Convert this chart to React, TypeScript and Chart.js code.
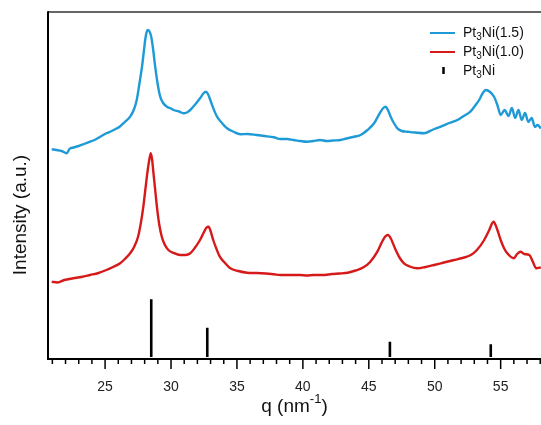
import React, { useEffect, useRef } from "react";
import { Chart, registerables } from "chart.js";

Chart.register(...registerables);

// Pt3Ni(1.5) – blue trace
const blueQ = [20.95, 21.3, 21.7, 22.09, 22.3, 22.6, 23.0, 23.4, 23.86, 24.2, 24.6, 25.1, 25.5, 25.8, 26.1, 26.5, 26.9, 27.2, 27.4, 27.6, 27.8, 27.95, 28.04, 28.15, 28.24, 28.35, 28.5, 28.65, 28.8, 29.0, 29.18, 29.4, 29.69, 30.0, 30.2, 30.6, 30.95, 31.2, 31.46, 31.8, 32.2, 32.45, 32.65, 32.8, 32.98, 33.2, 33.49, 33.8, 34.25, 34.7, 35.26, 35.8, 36.5, 37.1, 37.8, 38.3, 38.8, 39.3, 39.8, 40.33, 40.8, 41.3, 41.8, 42.3, 42.86, 43.3, 43.8, 44.38, 44.9, 45.4, 45.9, 46.1, 46.28, 46.45, 46.66, 46.9, 47.17, 47.5, 47.93, 48.5, 49.2, 49.8, 50.46, 51.1, 51.72, 52.2, 52.7, 53.1, 53.37, 53.65, 53.88, 54.2, 54.5, 54.75, 55.0, 55.3, 55.6, 55.85, 56.1, 56.35, 56.6, 56.85, 57.1, 57.35, 57.6, 57.8, 58.05];
const blueI = [209.7, 209, 208, 205.7, 210, 211.5, 213, 215, 217.3, 219, 222, 225.7, 228, 230, 232.3, 237, 242.3, 250, 259, 275, 292.3, 309, 319, 327, 329, 328, 322.3, 309, 292.3, 274, 262.3, 256, 252.3, 250.5, 249, 247.5, 245.7, 246.5, 249, 254, 260.7, 265.5, 267.3, 265, 259, 251, 242.3, 237, 230.7, 227.5, 224.7, 225, 224, 223, 221.7, 220, 220, 219, 218, 217.3, 218, 219, 218, 218.5, 219, 220.5, 222, 224, 229, 235.7, 247.3, 251, 252.3, 249, 242.3, 236, 230.7, 228, 227.3, 226.5, 225.7, 229, 232.3, 236, 239, 243, 247.3, 254, 259, 266, 269, 267, 262.3, 254, 244, 249, 243, 251, 241, 249, 239, 246, 237, 241, 232, 234, 230.7];

// Pt3Ni(1.0) – red trace
const redQ = [20.95, 21.4, 21.9, 22.6, 23.2, 23.86, 24.5, 25.1, 25.6, 26.14, 26.5, 26.9, 27.2, 27.5, 27.7, 27.9, 28.05, 28.2, 28.35, 28.47, 28.57, 28.67, 28.8, 28.93, 29.1, 29.3, 29.5, 29.8, 30.2, 30.7, 31.1, 31.46, 31.8, 32.2, 32.5, 32.7, 32.85, 33.0, 33.2, 33.45, 33.7, 34.1, 34.5, 35.1, 35.77, 36.5, 37.2, 37.8, 38.3, 39.0, 39.8, 40.3, 40.8, 41.5, 42.2, 42.8, 43.4, 44.0, 44.6, 45.1, 45.65, 46.0, 46.25, 46.45, 46.65, 47.04, 47.35, 47.67, 48.1, 48.68, 49.3, 49.95, 50.7, 51.47, 52.1, 52.74, 53.2, 53.75, 54.1, 54.46, 54.7, 55.0, 55.25, 55.5, 56.0, 56.25, 56.5, 56.8, 57.17, 57.45, 57.7, 58.05];
const redI = [77.3, 76.5, 79, 80.7, 82, 84, 86, 89, 92, 95.7, 100, 105.7, 112, 122.3, 135, 152.3, 169, 185.7, 199, 205.7, 199, 185.7, 169, 152.3, 135, 122.3, 115, 109, 106, 104, 104, 105.7, 111, 119, 127, 131.5, 132.3, 128, 119, 110, 102.3, 96, 90.7, 88, 86.3, 86, 85.5, 84.7, 84, 84, 84, 83.5, 84, 84, 85, 85.5, 86.3, 88.5, 91.7, 97, 107.3, 117, 122.5, 124, 121, 109, 101, 95.7, 92.5, 90.7, 92, 94, 96.5, 99, 101, 104, 109, 119, 128, 137.3, 131, 119, 111, 105.7, 100.7, 105, 107.3, 105, 104, 97, 90.7, 91.7];

// Pt3Ni reference reflections
const refQ = [28.5, 32.75, 46.6, 54.25];
const refI = [59.7, 31.3, 17.3, 14.7];
const refBase = 2;

const xMin = 20.67;
const xMax = 58.06;
const yMin = 0;
const yMax = 347;

const BLUE = "#1e9ad6";
const RED = "#d61a1a";
const FONT = "'Liberation Sans', Arial, sans-serif";

const decorPlugin = {
  id: "decor",
  afterDraw(chart: any) {
    const ctx = chart.ctx;
    const { left, right, top, bottom } = chart.chartArea;
    const xs = chart.scales.x;
    ctx.save();
    // top frame line
    ctx.strokeStyle = "#333";
    ctx.lineWidth = 1.5;
    ctx.beginPath();
    ctx.moveTo(left, top);
    ctx.lineTo(right + 2, top);
    ctx.stroke();
    // left axis
    ctx.strokeStyle = "#000";
    ctx.lineWidth = 2;
    ctx.beginPath();
    ctx.moveTo(left, top - 0.75);
    ctx.lineTo(left, bottom + 1);
    ctx.stroke();
    // x ticks (outside)
    ctx.lineWidth = 1.5;
    xs.ticks.forEach((t: any) => {
      const px = xs.getPixelForValue(t.value);
      const major = Math.abs(t.value % 5) < 1e-6;
      const len = major ? 10 : 5;
      ctx.beginPath();
      ctx.moveTo(px, bottom);
      ctx.lineTo(px, bottom + len);
      ctx.stroke();
    });
    // x title: q (nm^-1)
    ctx.fillStyle = "#111";
    ctx.textBaseline = "alphabetic";
    ctx.textAlign = "left";
    const big = `19px ${FONT}`;
    const sup = `13px ${FONT}`;
    ctx.font = big;
    const p1 = "q (nm";
    const w1 = ctx.measureText(p1).width;
    ctx.font = sup;
    const p2 = "-1";
    const w2 = ctx.measureText(p2).width;
    ctx.font = big;
    const p3 = ")";
    const w3 = ctx.measureText(p3).width;
    const total = w1 + w2 + w3;
    const cx = (left + right) / 2;
    const x0 = cx - total / 2;
    const base = 412;
    ctx.font = big;
    ctx.fillText(p1, x0, base);
    ctx.font = sup;
    ctx.fillText(p2, x0 + w1, base - 9);
    ctx.font = big;
    ctx.fillText(p3, x0 + w1 + w2, base);
    // y title
    ctx.save();
    ctx.translate(21, 215);
    ctx.rotate(-Math.PI / 2);
    ctx.textAlign = "center";
    ctx.textBaseline = "middle";
    ctx.font = big;
    ctx.fillText("Intensity (a.u.)", 0, 0);
    ctx.restore();
    // legend
    const rows = [
      { kind: "line", color: BLUE, label: "(1.5)", y: 33 },
      { kind: "line", color: RED, label: "(1.0)", y: 52 },
      { kind: "stick", color: "#000", label: "", y: 71 },
    ];
    const lf = `14px ${FONT}`;
    const sf = `10px ${FONT}`;
    rows.forEach((r) => {
      if (r.kind === "line") {
        ctx.strokeStyle = r.color;
        ctx.lineWidth = 2;
        ctx.beginPath();
        ctx.moveTo(430, r.y);
        ctx.lineTo(455, r.y);
        ctx.stroke();
      } else {
        ctx.strokeStyle = r.color;
        ctx.lineWidth = 2.5;
        ctx.beginPath();
        ctx.moveTo(443.5, r.y - 4);
        ctx.lineTo(443.5, r.y + 3);
        ctx.stroke();
      }
      ctx.fillStyle = "#111";
      ctx.textAlign = "left";
      ctx.textBaseline = "middle";
      let tx = 463;
      ctx.font = lf;
      ctx.fillText("Pt", tx, r.y);
      tx += ctx.measureText("Pt").width;
      ctx.font = sf;
      ctx.fillText("3", tx, r.y + 4);
      tx += ctx.measureText("3").width;
      ctx.font = lf;
      ctx.fillText("Ni" + r.label, tx, r.y);
    });
    ctx.restore();
  },
};

export default function App() {
  const ref = useRef<HTMLCanvasElement | null>(null);
  useEffect(() => {
    if (!ref.current) return;
    const stickData: any[] = [];
    refQ.forEach((q, i) => {
      stickData.push({ x: q, y: refBase });
      stickData.push({ x: q, y: refI[i] });
      stickData.push({ x: q, y: null });
    });
    const chart = new Chart(ref.current, {
      type: "line",
      data: {
        datasets: [
          {
            label: "Pt3Ni(1.5)",
            data: blueQ.map((q, i) => ({ x: q, y: blueI[i] })),
            borderColor: BLUE,
            borderWidth: 2.4,
            pointRadius: 0,
            cubicInterpolationMode: "monotone",
          },
          {
            label: "Pt3Ni(1.0)",
            data: redQ.map((q, i) => ({ x: q, y: redI[i] })),
            borderColor: RED,
            borderWidth: 2.4,
            pointRadius: 0,
            cubicInterpolationMode: "monotone",
          },
          {
            label: "Pt3Ni",
            data: stickData,
            borderColor: "#000",
            borderWidth: 2.6,
            pointRadius: 0,
            spanGaps: false,
            borderCapStyle: "butt",
          },
        ],
      },
      options: {
        responsive: false,
        animation: false,
        events: [],
        layout: { padding: { left: 48, top: 12, right: 0, bottom: 0 } },
        plugins: { legend: { display: false }, tooltip: { enabled: false } },
        scales: {
          x: {
            type: "linear",
            min: xMin,
            max: xMax,
            grid: { display: false },
            border: { display: true, color: "#000", width: 2 },
            ticks: {
              stepSize: 1,
              includeBounds: false,
              autoSkip: false,
              maxRotation: 0,
              padding: 12,
              color: "#222",
              font: { family: FONT, size: 14 },
              callback: (v: any) => (Math.abs(Number(v) % 5) < 1e-6 ? String(v) : ""),
            },
            afterFit: (scale: any) => {
              scale.height = 66;
              scale.paddingLeft = 0;
              scale.paddingRight = 0;
            },
          },
          y: {
            display: false,
            min: yMin,
            max: yMax,
          },
        },
      },
      plugins: [decorPlugin],
    });
    return () => chart.destroy();
  }, []);
  return (
    <div style={{ position: "fixed", left: 0, top: 0, width: 541, height: 425, background: "#fff" }}>
      <canvas ref={ref} width={541} height={425} style={{ display: "block" }} />
    </div>
  );
}
